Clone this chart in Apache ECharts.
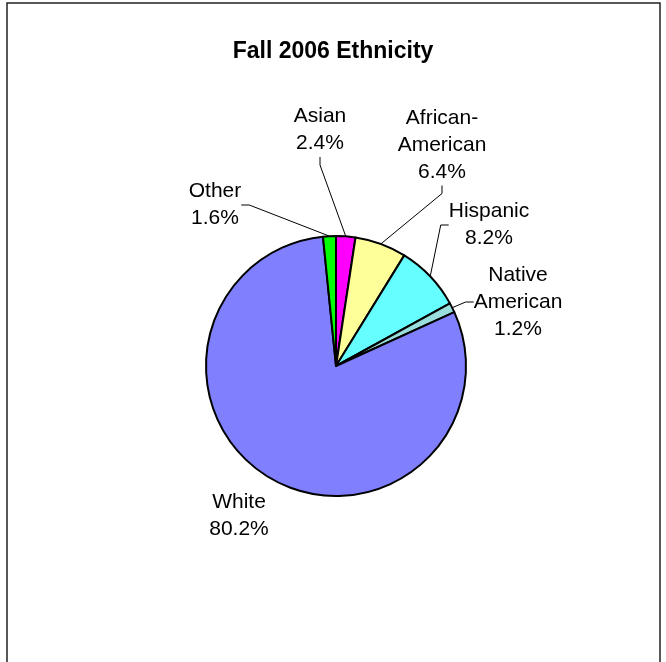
<!DOCTYPE html>
<html>
<head>
<meta charset="utf-8">
<script src="https://cdn.jsdelivr.net/npm/echarts@6/dist/echarts.min.js"></script>
<style>
  html, body { margin: 0; padding: 0; background: #fff; }
  #chart { width: 666px; height: 662px; }
</style>
</head>
<body>
<div id="chart"></div>
<script>
// Enrollment by ethnicity, Fall 2006 (percent of students)
const categories = ['Asian', 'African-\nAmerican', 'Hispanic', 'Native\nAmerican', 'White', 'Other'];
const shares = [2.4, 6.4, 8.2, 1.2, 80.2, 1.6];
const sliceColors = ['#FF00FF', '#FFFF99', '#66FFFF', '#99DDDD', '#8080FF', '#00FF00'];

// Where each label block sits (centre of the text block)
const labelSpots = {
  'Asian': [320, 130],
  'African-\nAmerican': [442, 145],
  'Hispanic': [489, 225],
  'Native\nAmerican': [518, 302],
  'White': [239, 516],
  'Other': [215, 205]
};

const chart = echarts.init(document.getElementById('chart'), null, { renderer: 'canvas' });

const seriesData = categories.map((name, i) => ({
  name: name,
  value: shares[i],
  itemStyle: { color: sliceColors[i] },
  labelLine: { show: name !== 'White' }
}));

chart.setOption({
  backgroundColor: '#ffffff',
  animation: false,
  title: {
    text: 'Fall 2006 Ethnicity',
    left: 'center',
    top: 35,
    textStyle: { fontFamily: 'Liberation Sans, Arial, sans-serif', fontSize: 23, fontWeight: 'bold', color: '#000' }
  },
  graphic: [{
    type: 'rect',
    shape: { x: 7, y: 3, width: 653, height: 720 },
    style: { fill: 'none', stroke: '#222', lineWidth: 1.5 },
    silent: true
  }],
  series: [{
    type: 'pie',
    center: [336, 366],
    radius: 130,
    startAngle: 90,
    clockwise: true,
    data: seriesData,
    itemStyle: { borderColor: '#000', borderWidth: 2 },
    label: {
      show: true,
      formatter: p => p.name + '\n' + p.value.toFixed(1) + '%',
      fontFamily: 'Liberation Sans, Arial, sans-serif',
      fontSize: 21,
      lineHeight: 27,
      color: '#000',
      align: 'center'
    },
    labelLine: { lineStyle: { color: '#000', width: 1 }, length: 10, length2: 8 },
    labelLayout: function (params) {
      const spot = labelSpots[categories[params.dataIndex]];
      return { x: spot[0], y: spot[1], align: 'center', verticalAlign: 'middle' };
    },
    emphasis: { disabled: true }
  }]
});
</script>
</body>
</html>
